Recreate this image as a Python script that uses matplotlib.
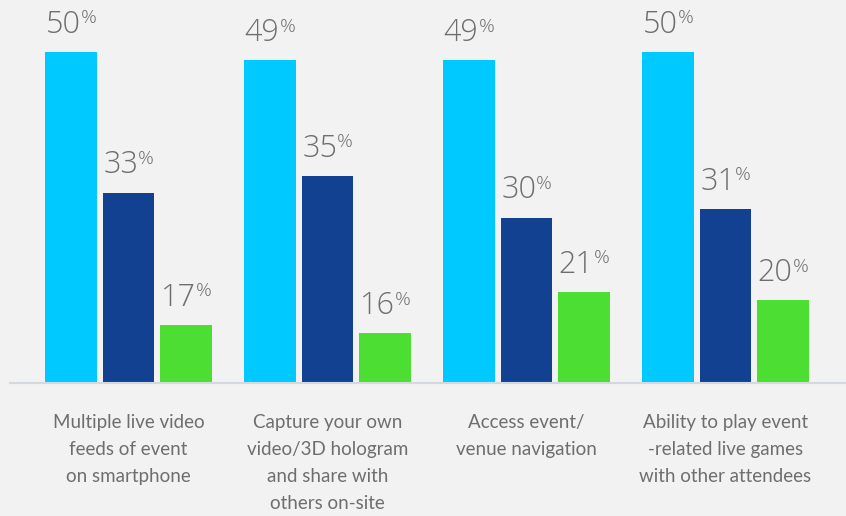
import numpy as np
import matplotlib.pyplot as plt

# survey results, percent of respondents per answer
categories = [
    'Multiple live video\nfeeds of event\non smartphone',
    'Capture your own\nvideo/3D hologram\nand share with\nothers on-site',
    'Access event/\nvenue navigation',
    'Ability to play event\n-related live games\nwith other attendees',
]
series_a = [50, 49, 49, 50]
series_b = [33, 35, 30, 31]
series_c = [17, 16, 21, 20]

COLORS = ['#00c9ff', '#124191', '#4dde34']
BG = '#f2f2f2'
TEXT = '#6e6e6e'
FONT = 'Lato'
NUMFONT = 'Open Sans'

W, H = 846, 516
fig = plt.figure(figsize=(W / 100, H / 100), dpi=100, facecolor=BG)
# axes: left edge at 10px, baseline 383px from the top
ax = fig.add_axes([10 / W, (H - 383) / H, (W - 10) / W, 383 / H])
ax.set_facecolor(BG)

x = np.arange(len(categories))
width = 0.261
step = 0.289

for k, (vals, col) in enumerate(zip([series_a, series_b, series_c], COLORS)):
    pos = x + (k - 1) * step
    ax.bar(pos, [v - 10 for v in vals], width=width, bottom=10, color=col)
    for p, v in zip(pos, vals):
        num = ax.annotate(str(v), xy=(p - width / 2, v), xytext=(0.5, 14),
                          textcoords='offset points', ha='left', va='baseline',
                          fontsize=22, color=TEXT, family=NUMFONT, weight=300)
        ax.annotate('%', xy=(1, 1), xycoords=num, xytext=(0, -0.5),
                    textcoords='offset points', ha='left', va='top',
                    fontsize=14, color=TEXT, family=NUMFONT, weight=300)

ax.set_xlim(-0.5955, -0.5955 + (W - 10) / 199)
ax.set_ylim(10, 10 + 383 / 8.275)

ax.set_xticks(x, categories)
ax.tick_params(axis='x', length=0, pad=22, labelsize=13.5, labelcolor=TEXT)
for lab in ax.get_xticklabels():
    lab.set_family(FONT)
    lab.set_linespacing(1.72)
    lab.set_verticalalignment('top')
ax.set_yticks([])

for s in ['top', 'left', 'right']:
    ax.spines[s].set_visible(False)
ax.spines['bottom'].set_color('#d3d9df')
ax.spines['bottom'].set_linewidth(1.5)

fig.savefig('out.png', dpi=100, facecolor=BG)
